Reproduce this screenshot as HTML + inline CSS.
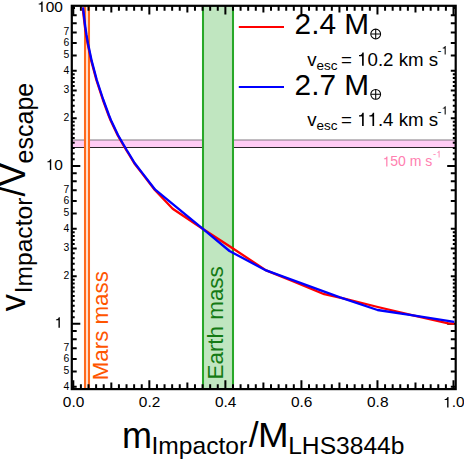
<!DOCTYPE html><html><head><meta charset="utf-8"><style>html,body{margin:0;padding:0;background:#fff}body{width:464px;height:460px;overflow:hidden}</style></head><body><svg width="464" height="460" viewBox="0 0 464 460" style="display:block;font-family:'Liberation Sans',sans-serif">
<rect width="464" height="460" fill="#fff"/>
<rect x="71.8" y="140.0" width="383.9" height="7.5" fill="#ffccf4"/>
<line x1="71.8" x2="455.7" y1="140.0" y2="140.0" stroke="#807880" stroke-width="1"/>
<line x1="71.8" x2="455.7" y1="147.5" y2="147.5" stroke="#2a2428" stroke-width="1.05"/>
<rect x="203.0" y="5.8" width="30.0" height="383.3" fill="#c0e6c0"/>
<line x1="203.0" x2="203.0" y1="5.8" y2="389.1" stroke="#28a828" stroke-width="2.05"/>
<line x1="233.0" x2="233.0" y1="5.8" y2="389.1" stroke="#28a828" stroke-width="2.05"/>
<rect x="85.0" y="5.8" width="4.0" height="383.3" fill="#ffe0d0"/>
<line x1="85.0" x2="85.0" y1="5.8" y2="389.1" stroke="#ff6a1c" stroke-width="2.05"/>
<line x1="89.0" x2="89.0" y1="5.8" y2="389.1" stroke="#ff6a1c" stroke-width="2.05"/>
<path d="M73.30,389.1v-8.8M73.30,5.8v8.8M80.90,389.1v-4.9M80.90,5.8v4.9M88.51,389.1v-4.9M88.51,5.8v4.9M96.11,389.1v-4.9M96.11,5.8v4.9M103.72,389.1v-4.9M103.72,5.8v4.9M111.32,389.1v-6.6M111.32,5.8v6.6M118.92,389.1v-4.9M118.92,5.8v4.9M126.53,389.1v-4.9M126.53,5.8v4.9M134.13,389.1v-4.9M134.13,5.8v4.9M141.74,389.1v-4.9M141.74,5.8v4.9M149.34,389.1v-8.8M149.34,5.8v8.8M156.94,389.1v-4.9M156.94,5.8v4.9M164.55,389.1v-4.9M164.55,5.8v4.9M172.15,389.1v-4.9M172.15,5.8v4.9M179.76,389.1v-4.9M179.76,5.8v4.9M187.36,389.1v-6.6M187.36,5.8v6.6M194.96,389.1v-4.9M194.96,5.8v4.9M202.57,389.1v-4.9M202.57,5.8v4.9M210.17,389.1v-4.9M210.17,5.8v4.9M217.78,389.1v-4.9M217.78,5.8v4.9M225.38,389.1v-8.8M225.38,5.8v8.8M232.98,389.1v-4.9M232.98,5.8v4.9M240.59,389.1v-4.9M240.59,5.8v4.9M248.19,389.1v-4.9M248.19,5.8v4.9M255.80,389.1v-4.9M255.80,5.8v4.9M263.40,389.1v-6.6M263.40,5.8v6.6M271.00,389.1v-4.9M271.00,5.8v4.9M278.61,389.1v-4.9M278.61,5.8v4.9M286.21,389.1v-4.9M286.21,5.8v4.9M293.82,389.1v-4.9M293.82,5.8v4.9M301.42,389.1v-8.8M301.42,5.8v8.8M309.02,389.1v-4.9M309.02,5.8v4.9M316.63,389.1v-4.9M316.63,5.8v4.9M324.23,389.1v-4.9M324.23,5.8v4.9M331.84,389.1v-4.9M331.84,5.8v4.9M339.44,389.1v-6.6M339.44,5.8v6.6M347.04,389.1v-4.9M347.04,5.8v4.9M354.65,389.1v-4.9M354.65,5.8v4.9M362.25,389.1v-4.9M362.25,5.8v4.9M369.86,389.1v-4.9M369.86,5.8v4.9M377.46,389.1v-8.8M377.46,5.8v8.8M385.06,389.1v-4.9M385.06,5.8v4.9M392.67,389.1v-4.9M392.67,5.8v4.9M400.27,389.1v-4.9M400.27,5.8v4.9M407.88,389.1v-4.9M407.88,5.8v4.9M415.48,389.1v-6.6M415.48,5.8v6.6M423.08,389.1v-4.9M423.08,5.8v4.9M430.69,389.1v-4.9M430.69,5.8v4.9M438.29,389.1v-4.9M438.29,5.8v4.9M445.90,389.1v-4.9M445.90,5.8v4.9M453.50,389.1v-8.8M453.50,5.8v8.8M71.8,386.70h4.9M455.7,386.70h-4.9M71.8,371.40h4.9M455.7,371.40h-4.9M71.8,358.89h4.9M455.7,358.89h-4.9M71.8,348.32h4.9M455.7,348.32h-4.9M71.8,339.16h4.9M455.7,339.16h-4.9M71.8,331.08h4.9M455.7,331.08h-4.9M71.8,323.85h8.5M455.7,323.85h-8.5M71.8,317.31h2.9M455.7,317.31h-2.9M71.8,311.34h2.9M455.7,311.34h-2.9M71.8,305.85h2.9M455.7,305.85h-2.9M71.8,300.77h2.9M455.7,300.77h-2.9M71.8,296.04h2.9M455.7,296.04h-2.9M71.8,291.61h2.9M455.7,291.61h-2.9M71.8,287.45h2.9M455.7,287.45h-2.9M71.8,283.53h2.9M455.7,283.53h-2.9M71.8,279.82h2.9M455.7,279.82h-2.9M71.8,276.30h4.9M455.7,276.30h-4.9M71.8,269.76h2.9M455.7,269.76h-2.9M71.8,263.80h2.9M455.7,263.80h-2.9M71.8,258.30h2.9M455.7,258.30h-2.9M71.8,253.22h2.9M455.7,253.22h-2.9M71.8,248.49h4.9M455.7,248.49h-4.9M71.8,244.06h2.9M455.7,244.06h-2.9M71.8,239.90h2.9M455.7,239.90h-2.9M71.8,235.98h2.9M455.7,235.98h-2.9M71.8,232.27h2.9M455.7,232.27h-2.9M71.8,228.75h4.9M455.7,228.75h-4.9M71.8,213.45h4.9M455.7,213.45h-4.9M71.8,200.94h4.9M455.7,200.94h-4.9M71.8,190.37h4.9M455.7,190.37h-4.9M71.8,181.21h4.9M455.7,181.21h-4.9M71.8,173.13h4.9M455.7,173.13h-4.9M71.8,165.90h8.5M455.7,165.90h-8.5M71.8,159.36h2.9M455.7,159.36h-2.9M71.8,153.39h2.9M455.7,153.39h-2.9M71.8,147.90h2.9M455.7,147.90h-2.9M71.8,142.82h2.9M455.7,142.82h-2.9M71.8,138.09h2.9M455.7,138.09h-2.9M71.8,133.66h2.9M455.7,133.66h-2.9M71.8,129.50h2.9M455.7,129.50h-2.9M71.8,125.58h2.9M455.7,125.58h-2.9M71.8,121.87h2.9M455.7,121.87h-2.9M71.8,118.35h4.9M455.7,118.35h-4.9M71.8,111.81h2.9M455.7,111.81h-2.9M71.8,105.85h2.9M455.7,105.85h-2.9M71.8,100.35h2.9M455.7,100.35h-2.9M71.8,95.27h2.9M455.7,95.27h-2.9M71.8,90.54h4.9M455.7,90.54h-4.9M71.8,86.11h2.9M455.7,86.11h-2.9M71.8,81.95h2.9M455.7,81.95h-2.9M71.8,78.03h2.9M455.7,78.03h-2.9M71.8,74.32h2.9M455.7,74.32h-2.9M71.8,70.80h4.9M455.7,70.80h-4.9M71.8,55.50h4.9M455.7,55.50h-4.9M71.8,42.99h4.9M455.7,42.99h-4.9M71.8,32.42h4.9M455.7,32.42h-4.9M71.8,23.26h4.9M455.7,23.26h-4.9M71.8,15.18h4.9M455.7,15.18h-4.9M71.8,7.95h3.2M455.7,7.95h-3.2" stroke="#000" stroke-width="2.0" fill="none"/>
<polyline points="82.65,7.65 84.85000000000001,26.35 86.15,35.25 87.65,43.75 91.35000000000001,61.15 96.45,80.25 102.85000000000001,99.75 108.55000000000001,115.25 110.65,120.45 117.65,135.25 121.95,142.75 126.35000000000001,150.25 129.45000000000002,155.25 134.25,163.25 142.05,173.35 154.85,189.95 172.7,208.7 202.6,228.7 232.6,248.3 266.1,270.4 292.2,280.9 324.2,294.2 344.3,298.6 377.8,307.0 413,315.3 448.3,323.4 454.3,323.7" fill="none" stroke="#ff0000" stroke-width="2.3" stroke-linejoin="round"/>
<polyline points="83.0,7.4 85.2,26.1 86.5,35 88.0,43.5 91.7,60.9 96.8,80 103.2,99.5 108.9,115 111.0,120.2 118.0,135 122.3,142.5 126.7,150 129.8,155 134.6,163 142.4,173.1 155.2,189.7 202.6,228.7 229.5,251.0 266.1,270.4 340,297.3 377.5,310.0 413,315.3 454.3,321.8" fill="none" stroke="#0000ff" stroke-width="2.3" stroke-linejoin="round"/>
<rect x="71.8" y="5.8" width="383.9" height="383.3" fill="none" stroke="#000" stroke-width="2.2"/>
<text x="62.85" y="407.4" font-size="14.5" fill="#000" textLength="21.50" lengthAdjust="spacingAndGlyphs">0.0</text>
<text x="138.89" y="407.4" font-size="14.5" fill="#000" textLength="21.50" lengthAdjust="spacingAndGlyphs">0.2</text>
<text x="214.93" y="407.4" font-size="14.5" fill="#000" textLength="21.50" lengthAdjust="spacingAndGlyphs">0.4</text>
<text x="290.97" y="407.4" font-size="14.5" fill="#000" textLength="21.50" lengthAdjust="spacingAndGlyphs">0.6</text>
<text x="367.01" y="407.4" font-size="14.5" fill="#000" textLength="21.50" lengthAdjust="spacingAndGlyphs">0.8</text>
<path transform="translate(443.05,407.4) scale(0.01547,-0.01450)" d="M353,0L264,0L264,508L101,508L101,568C200,572 262,612 284,709L353,709Z" fill="#000"/><text x="451.65" y="407.4" font-size="14.5" fill="#000" textLength="12.90" lengthAdjust="spacingAndGlyphs">.0</text>
<path transform="translate(37.15,11.95) scale(0.01550,-0.01490)" d="M353,0L264,0L264,508L101,508L101,568C200,572 262,612 284,709L353,709Z" fill="#000"/><text x="45.77" y="11.95" font-size="14.9" fill="#000" textLength="17.23" lengthAdjust="spacingAndGlyphs">00</text>
<path transform="translate(45.77,169.9) scale(0.01550,-0.01490)" d="M353,0L264,0L264,508L101,508L101,568C200,572 262,612 284,709L353,709Z" fill="#000"/><text x="54.38" y="169.9" font-size="14.9" fill="#000" textLength="8.62" lengthAdjust="spacingAndGlyphs">0</text>
<path transform="translate(54.38,327.85) scale(0.01550,-0.01490)" d="M353,0L264,0L264,508L101,508L101,568C200,572 262,612 284,709L353,709Z" fill="#000"/>
<text x="69.2" y="389.50" font-size="10.4" text-anchor="end">4</text>
<text x="69.2" y="374.20" font-size="10.4" text-anchor="end">5</text>
<text x="69.2" y="361.69" font-size="10.4" text-anchor="end">6</text>
<text x="69.2" y="351.12" font-size="10.4" text-anchor="end">7</text>
<text x="69.2" y="279.10" font-size="10.4" text-anchor="end">2</text>
<text x="69.2" y="251.29" font-size="10.4" text-anchor="end">3</text>
<text x="69.2" y="231.55" font-size="10.4" text-anchor="end">4</text>
<text x="69.2" y="216.25" font-size="10.4" text-anchor="end">5</text>
<text x="69.2" y="203.74" font-size="10.4" text-anchor="end">6</text>
<text x="69.2" y="193.17" font-size="10.4" text-anchor="end">7</text>
<text x="69.2" y="121.15" font-size="10.4" text-anchor="end">2</text>
<text x="69.2" y="93.34" font-size="10.4" text-anchor="end">3</text>
<text x="69.2" y="73.60" font-size="10.4" text-anchor="end">4</text>
<text x="69.2" y="58.30" font-size="10.4" text-anchor="end">5</text>
<text x="69.2" y="45.79" font-size="10.4" text-anchor="end">6</text>
<text x="69.2" y="35.22" font-size="10.4" text-anchor="end">7</text>
<line x1="238.8" x2="284" y1="26.9" y2="26.9" stroke="#ff0000" stroke-width="2"/>
<line x1="238.8" x2="284" y1="87.1" y2="87.1" stroke="#0000ff" stroke-width="2"/>
<text x="294.6" y="34.3" font-size="29.8">2.4 M</text>
<g stroke="#000" stroke-width="1.05" fill="none"><circle cx="375.7" cy="34.0" r="4.9"/><path d="M370.8,34.0h9.8M375.7,29.1v9.8"/></g>
<text x="294.6" y="94.6" font-size="29.8">2.7 M</text>
<g stroke="#000" stroke-width="1.05" fill="none"><circle cx="375.7" cy="94.3" r="4.9"/><path d="M370.8,94.3h9.8M375.7,89.39999999999999v9.8"/></g>
<text x="307.2" y="65.7" font-size="18.7">v</text><text x="316.4" y="69.7" font-size="13.5">esc</text><text x="341.00" y="65.7" font-size="18.7" fill="#000" textLength="10.92" lengthAdjust="spacingAndGlyphs">=</text><path transform="translate(357.12,65.7) scale(0.01870,-0.01870)" d="M353,0L264,0L264,508L101,508L101,568C200,572 262,612 284,709L353,709Z" fill="#000"/><text x="367.52" y="65.7" font-size="18.7" fill="#000" textLength="70.67" lengthAdjust="spacingAndGlyphs">0.2 km s</text><text x="437.60" y="54.4" font-size="11.8" fill="#000" textLength="3.93" lengthAdjust="spacingAndGlyphs">-</text><path transform="translate(441.53,54.4) scale(0.01180,-0.01180)" d="M353,0L264,0L264,508L101,508L101,568C200,572 262,612 284,709L353,709Z" fill="#000"/>
<text x="307.2" y="125.9" font-size="18.7">v</text><text x="316.4" y="129.9" font-size="13.5">esc</text><text x="341.00" y="125.9" font-size="18.7" fill="#000" textLength="10.92" lengthAdjust="spacingAndGlyphs">=</text><path transform="translate(357.12,125.9) scale(0.01870,-0.01870)" d="M353,0L264,0L264,508L101,508L101,568C200,572 262,612 284,709L353,709Z" fill="#000"/><path transform="translate(367.52,125.9) scale(0.01870,-0.01870)" d="M353,0L264,0L264,508L101,508L101,568C200,572 262,612 284,709L353,709Z" fill="#000"/><text x="377.91" y="125.9" font-size="18.7" fill="#000" textLength="60.27" lengthAdjust="spacingAndGlyphs">.4 km s</text><text x="437.60" y="114.6" font-size="11.8" fill="#000" textLength="3.93" lengthAdjust="spacingAndGlyphs">-</text><path transform="translate(441.53,114.6) scale(0.01180,-0.01180)" d="M353,0L264,0L264,508L101,508L101,568C200,572 262,612 284,709L353,709Z" fill="#000"/>
<path transform="translate(382.50,166.4) scale(0.01400,-0.01400)" d="M353,0L264,0L264,508L101,508L101,568C200,572 262,612 284,709L353,709Z" fill="#ff80b0"/><text x="390.28" y="166.4" font-size="14" fill="#ff80b0" textLength="42.01" lengthAdjust="spacingAndGlyphs">50 m s</text><text x="433.00" y="157.4" font-size="9.5" fill="#ff80b0" textLength="3.16" lengthAdjust="spacingAndGlyphs">-</text><path transform="translate(436.16,157.4) scale(0.00950,-0.00950)" d="M353,0L264,0L264,508L101,508L101,568C200,572 262,612 284,709L353,709Z" fill="#ff80b0"/>
<text transform="translate(108.3,380.2) rotate(-90)" font-size="22.3" fill="#ff5500">Mars mass</text>
<text transform="translate(223.3,379.5) rotate(-90)" font-size="22.4" fill="#147a14">Earth mass</text>
<text x="121.9" y="447.6" font-size="36">m</text>
<text x="151.5" y="454.2" font-size="24.6">Impactor</text>
<text x="248.8" y="447.4" font-size="35.5">/</text>
<text x="258.0" y="447.4" font-size="35.5" textLength="30.6" lengthAdjust="spacingAndGlyphs">M</text>
<text x="288.2" y="454.2" font-size="24.6">LHS3844b</text>
<g transform="translate(25.4,311.2) rotate(-90)"><text x="0" y="0" font-size="34.5">v</text><text x="17.9" y="6.9" font-size="24.6">Impactor</text><text x="114.6" y="0" font-size="36">/</text><text x="124.6" y="0" font-size="36">V</text><text x="147.8" y="7.2" font-size="25">escape</text></g>
</svg></body></html>
